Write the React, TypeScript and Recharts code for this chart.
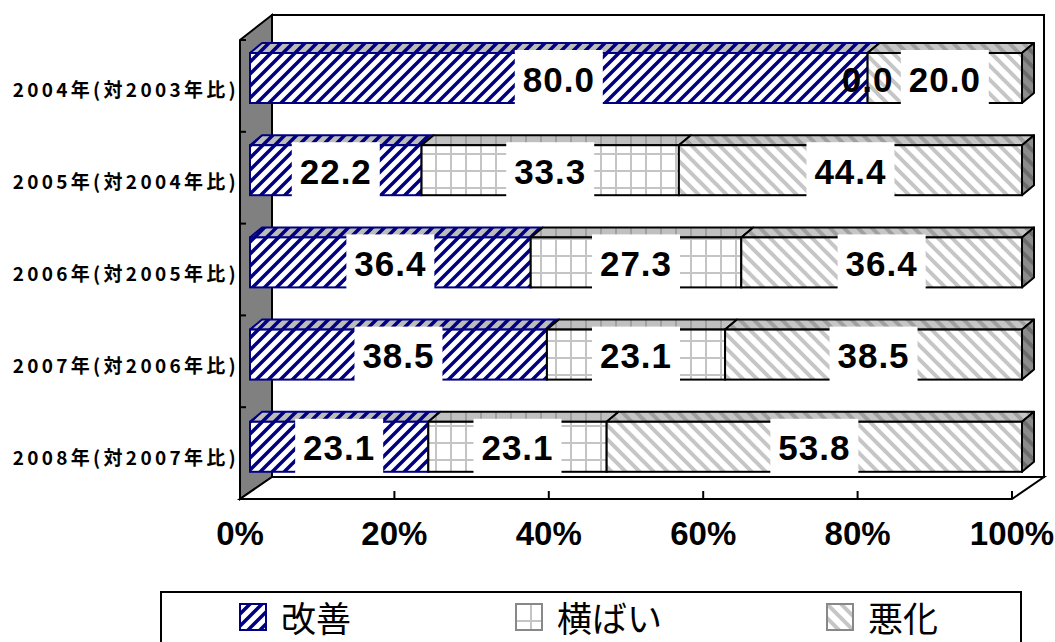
import { BarChart, Bar, XAxis, YAxis, LabelList, Legend } from "recharts";

const categories = [
  "2004年(対2003年比)",
  "2005年(対2004年比)",
  "2006年(対2005年比)",
  "2007年(対2006年比)",
  "2008年(対2007年比)",
];
const kaizen = [80.0, 22.2, 36.4, 38.5, 23.1];
const yokobai = [0.0, 33.3, 27.3, 23.1, 23.1];
const akka = [20.0, 44.4, 36.4, 38.5, 53.8];
const xTicks = [0, 0.2, 0.4, 0.6, 0.8, 1];

const SERIES = [
  { key: "kaizen", name: "改善", front: "url(#p-kaizen)", top: "url(#p-kaizen-top)", stroke: "#000080" },
  { key: "yokobai", name: "横ばい", front: "url(#p-yoko)", top: "url(#p-yoko-top)", stroke: "#000" },
  { key: "akka", name: "悪化", front: "url(#p-akka)", top: "url(#p-akka-top)", stroke: "#000" },
];

const data = categories.map((c, i) => ({
  name: c,
  kaizen: kaizen[i],
  yokobai: yokobai[i],
  akka: akka[i],
}));

// layout of the plot (front plane of the bars)
const W = 1055;
const H = 642;
const PL = 250;
const PR = 1022;
const PT = 32;
const PB = 493;
// bar depth
const DX = 12;
const DY = 10;

const Patterns = () => (
  <svg width={0} height={0} style={{ position: "absolute" }}>
    <defs>
      <pattern id="p-kaizen" width={12} height={12} patternUnits="userSpaceOnUse">
        <rect width={12} height={12} fill="#fff" />
        <path d="M-3,3 L3,-3 M0,12 L12,0 M9,15 L15,9" stroke="#000080" strokeWidth={3.5} />
      </pattern>
      <pattern id="p-kaizen-top" width={12} height={12} patternUnits="userSpaceOnUse">
        <rect width={12} height={12} fill="#bcbcbc" />
        <path d="M-3,3 L3,-3 M0,12 L12,0 M9,15 L15,9" stroke="#000080" strokeWidth={3.5} />
      </pattern>
      <pattern id="p-yoko" width={15} height={17} patternUnits="userSpaceOnUse">
        <rect width={15} height={17} fill="#fff" />
        <rect x={0} y={0} width={2} height={17} fill="#c4c4c4" />
        <rect x={0} y={0} width={15} height={2} fill="#c4c4c4" />
      </pattern>
      <pattern id="p-yoko-top" width={15} height={17} patternUnits="userSpaceOnUse">
        <rect width={15} height={17} fill="#c0c0c0" />
        <rect x={0} y={0} width={2} height={17} fill="#a0a0a0" />
      </pattern>
      <pattern id="p-akka" width={14} height={14} patternUnits="userSpaceOnUse">
        <rect width={14} height={14} fill="#fff" />
        <path d="M0,0 L14,14 M-3.5,10.5 L3.5,17.5 M10.5,-3.5 L17.5,3.5" stroke="#c6c6c6" strokeWidth={4} />
      </pattern>
      <pattern id="p-akka-top" width={14} height={14} patternUnits="userSpaceOnUse">
        <rect width={14} height={14} fill="#c6c6c6" />
        <path d="M0,0 L14,14 M-3.5,10.5 L3.5,17.5 M10.5,-3.5 L17.5,3.5" stroke="#a0a0a0" strokeWidth={4} />
      </pattern>
      <pattern id="p-akka-side" width={14} height={14} patternUnits="userSpaceOnUse">
        <rect width={14} height={14} fill="#8c8c8c" />
        <path d="M0,0 L14,14 M-3.5,10.5 L3.5,17.5 M10.5,-3.5 L17.5,3.5" stroke="#6c6c6c" strokeWidth={4} />
      </pattern>
    </defs>
  </svg>
);

// walls and floor of the 3D frame
const Walls = () => {
  const fx0 = PL - 10;
  const fx1 = PR - 10;
  const bx0 = PL + 22;
  const bx1 = PR + 22;
  const floorF = PB + 6;
  const floorB = PB - 16;
  const topF = PT + 8;
  const topB = PT - 17;
  const band = (floorF - topF) / categories.length;
  return (
    <g>
      <polygon
        points={`${fx0},${topF} ${bx0},${topB} ${bx0},${floorB} ${fx0},${floorF}`}
        fill="#808080"
        stroke="#000"
        strokeWidth={2}
      />
      <rect x={bx0} y={topB} width={bx1 - bx0} height={floorB - topB} fill="#fff" stroke="#000" strokeWidth={2} />
      <polygon
        points={`${fx0},${floorF} ${fx1},${floorF} ${bx1},${floorB} ${bx0},${floorB}`}
        fill="#fff"
        stroke="#000"
        strokeWidth={2}
      />
      {xTicks.map((t) => {
        const x = fx0 + t * (fx1 - fx0);
        return <line key={t} x1={x} x2={x} y1={floorF} y2={floorF - 8} stroke="#000" strokeWidth={2} />;
      })}
      {categories.map((c, i) => (
        <line key={c} x1={fx0} x2={fx0 + 6} y1={topF + band * i} y2={topF + band * i} stroke="#000" strokeWidth={2} />
      ))}
    </g>
  );
};

const makeShape = (idx: number) => (props: any) => {
  const { x, y, width, height } = props;
  const s = SERIES[idx];
  const last = idx === SERIES.length - 1;
  return (
    <g>
      <polygon
        points={`${x},${y} ${x + DX},${y - DY} ${x + width + DX},${y - DY} ${x + width},${y}`}
        fill={s.top}
        stroke={s.stroke}
        strokeWidth={2}
        strokeLinejoin="round"
      />
      {last && (
        <polygon
          points={`${x + width},${y} ${x + width + DX},${y - DY} ${x + width + DX},${y + height - DY} ${x + width},${y + height}`}
          fill="url(#p-akka-side)"
          stroke="#000"
          strokeWidth={2}
          strokeLinejoin="round"
        />
      )}
      <rect x={x} y={y} width={width} height={height} fill={s.front} stroke={s.stroke} strokeWidth={2} />
    </g>
  );
};

const ValueLabel = (props: any) => {
  const { x, y, width, height, value } = props;
  const cx = x + width / 2;
  const cy = y + height / 2;
  return (
    <g>
      {value > 0 && <rect x={cx - 44} y={cy - 28} width={88} height={57} fill="#fff" />}
      <text
        x={cx}
        y={cy + 1}
        textAnchor="middle"
        dominantBaseline="central"
        fontFamily="'Liberation Sans', Arial, sans-serif"
        fontWeight="bold"
        fontSize={35}
        letterSpacing={1}
        fill="#000"
      >
        {Number(value).toFixed(1)}
      </text>
    </g>
  );
};

const CatTick = (props: any) => {
  const { y, payload } = props;
  return (
    <text
      x={PL - 11}
      y={y + 10}
      textAnchor="end"
      dominantBaseline="central"
      fontFamily="'Noto Sans CJK JP', sans-serif"
      fontWeight="bold"
      fontSize={19}
      letterSpacing={3.3}
      fill="#000"
    >
      {payload.value}
    </text>
  );
};

const PctTick = (props: any) => {
  const { x, payload } = props;
  return (
    <text
      x={x - 10}
      y={545}
      textAnchor="middle"
      fontFamily="'Liberation Sans', Arial, sans-serif"
      fontWeight="bold"
      fontSize={33}
      fill="#000"
    >
      {Math.round(payload.value * 100)}%
    </text>
  );
};

const swatch: Record<string, { fill: string; stroke: string }> = {
  kaizen: { fill: "url(#p-kaizen)", stroke: "#000080" },
  yokobai: { fill: "url(#p-yoko)", stroke: "#888" },
  akka: { fill: "url(#p-akka)", stroke: "#888" },
};

const LegendBox = () => (
  <div
    style={{
      width: 862,
      height: 51,
      borderTop: "2px solid #000",
      borderLeft: "2px solid #000",
      borderRight: "2px solid #000",
      boxSizing: "border-box",
      display: "flex",
      alignItems: "center",
      paddingLeft: 77,
      gap: 164,
      background: "#fff",
    }}
  >
    {SERIES.map((s) => (
      <div key={s.key} style={{ display: "flex", alignItems: "center", gap: 14, marginTop: -2 }}>
        <svg width={28} height={28}>
          <rect x={1} y={1} width={26} height={26} fill={swatch[s.key].fill} stroke={swatch[s.key].stroke} strokeWidth={2} />
        </svg>
        <span
          style={{
            fontFamily: "'Noto Sans CJK JP', sans-serif",
            fontSize: 35,
            lineHeight: "35px",
            color: "#000",
          }}
        >
          {s.name}
        </span>
      </div>
    ))}
  </div>
);

export default function App() {
  return (
    <div style={{ position: "relative", width: W, height: H, background: "#fff", overflow: "hidden" }}>
      <style>{"body{margin:0}"}</style>
      <Patterns />
      <BarChart
        width={W}
        height={H}
        data={data}
        layout="vertical"
        stackOffset="expand"
        margin={{ top: PT, right: W - PR, bottom: H - PB - 60, left: 0 }}
        barSize={50}
      >
        <Walls />
        <XAxis
          type="number"
          domain={[0, 1]}
          ticks={xTicks}
          height={60}
          axisLine={false}
          tickLine={false}
          tick={<PctTick />}
        />
        <YAxis type="category" dataKey="name" width={PL} axisLine={false} tickLine={false} tick={<CatTick />} />
        <Legend
          layout="horizontal"
          verticalAlign="middle"
          align="center"
          content={() => <LegendBox />}
          wrapperStyle={{ left: 160, top: 591, width: 862, height: 51 }}
        />
        {SERIES.map((s, i) => (
          <Bar
            key={s.key}
            dataKey={s.key}
            name={s.name}
            stackId="a"
            fill={s.stroke}
            shape={makeShape(i)}
            isAnimationActive={false}
          >
            <LabelList dataKey={s.key} content={<ValueLabel />} />
          </Bar>
        ))}
      </BarChart>
    </div>
  );
}
